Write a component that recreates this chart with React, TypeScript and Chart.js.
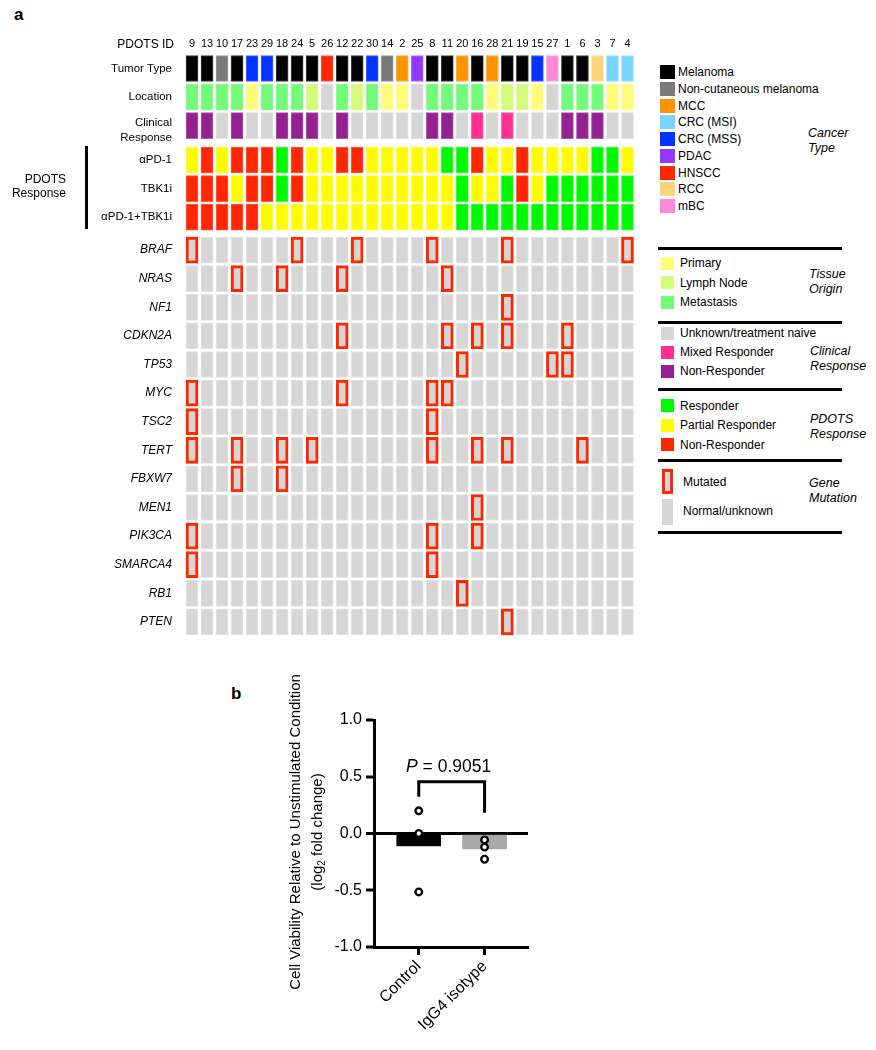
import React, { useEffect, useRef } from 'react';
import { Chart, registerables } from 'chart.js';

Chart.register(...registerables);

const FONT = '"Liberation Sans", Arial, Helvetica, sans-serif';

// ---------------- Panel a data ----------------
const pdotsIds = ['9','13','10','17','23','29','18','24','5','26','12','22','30','14','2','25','8','11','20','16','28','21','19','15','27','1','6','3','7','4'];

const tumorType = ['Melanoma','Melanoma','Non-cutaneous melanoma','Melanoma','CRC (MSS)','CRC (MSS)','Melanoma','Melanoma','Melanoma','HNSCC','Melanoma','Melanoma','CRC (MSS)','Non-cutaneous melanoma','MCC','PDAC','Melanoma','Melanoma','MCC','Melanoma','MCC','Melanoma','Melanoma','CRC (MSS)','mBC','Melanoma','Melanoma','RCC','CRC (MSI)','CRC (MSI)'];

// P = Primary, L = Lymph Node, M = Metastasis, U = unknown
const tissueOrigin = ['M','M','M','M','P','M','M','M','L','U','M','L','M','P','P','U','M','M','M','M','P','L','L','P','U','M','M','M','P','P'];

// U = unknown/treatment naive, X = mixed responder, N = non-responder
const clinicalResponse = ['N','N','U','N','U','U','N','N','N','U','N','U','U','U','U','U','N','N','U','X','U','X','U','U','U','N','N','N','U','U'];

// R = responder, P = partial responder, N = non-responder
const respPD1 = ['P','N','P','N','N','N','R','N','P','P','N','N','P','P','P','P','P','R','R','N','P','P','N','P','P','P','P','R','R','P'];
const respTBK1i = ['N','N','N','P','N','N','R','N','P','P','P','P','P','P','P','P','P','P','R','P','P','R','N','P','R','R','R','R','R','R'];
const respCombo = ['N','N','N','N','N','P','P','P','P','P','P','P','P','P','P','P','P','P','R','R','R','R','R','R','R','R','R','R','R','R'];

const geneNames = ['BRAF','NRAS','NF1','CDKN2A','TP53','MYC','TSC2','TERT','FBXW7','MEN1','PIK3CA','SMARCA4','RB1','PTEN'];
const mutatedIds = [
  ['9','24','22','8','21','4'],
  ['17','18','12','11'],
  ['21'],
  ['12','11','16','21','1'],
  ['20','27','1'],
  ['9','12','8','11'],
  ['9','8'],
  ['9','17','18','5','8','16','21','6'],
  ['17','18'],
  ['16'],
  ['9','8','16'],
  ['9','8'],
  ['20'],
  ['21'],
];

const headerRowLabels: (string | string[])[] = ['Tumor Type','Location',['Clinical','Response'],'αPD-1','TBK1i','αPD-1+TBK1i'];

// legend categories
const cancerTypeNames = ['Melanoma','Non-cutaneous melanoma','MCC','CRC (MSI)','CRC (MSS)','PDAC','HNSCC','RCC','mBC'];
const tissueNames = ['Primary','Lymph Node','Metastasis'];
const clinicalNames = ['Unknown/treatment naive','Mixed Responder','Non-Responder'];
const pdotsRespNames = ['Responder','Partial Responder','Non-Responder'];
const mutationNames = ['Mutated','Normal/unknown'];

// ---------------- Panel b data ----------------
const groups = ['Control','IgG4 isotype'];
const groupMeans = [-0.11, -0.135];
const controlPoints = [0.2, 0.0, -0.515];
const igg4Points = [-0.057, -0.12, -0.227];
const bracketTop = 0.456;
const bracketLegEnds = [0.324, 0.183];
const pValueLabelY = 0.545;
const pValueText = ' = 0.9051';

// ---------------- styles ----------------
const cancerTypeColors = ['#000000','#797979','#FF9300','#76D6FF','#0433FF','#9437FF','#FF2600','#FFD479','#FF8AD8'];
const tissueColors: Record<string, string> = { P: '#FFFC79', L: '#D4FB79', M: '#73FA79', U: '#D6D6D6' };
const clinicalColors: Record<string, string> = { U: '#D6D6D6', X: '#FF2F92', N: '#942192' };
const respColors: Record<string, string> = { R: '#00F900', P: '#FFFB00', N: '#FF2600' };
const GRAY = '#D6D6D6';
const MUT_RED = '#FF2600';
const barColors = ['#000000', '#A8A8A8'];

// vertical layout slots (row units)
const rowSlots = [0, 1, 2, 3.2, 4.2, 5.2, ...geneNames.map((_, i) => 6.35 + i)];
// where each row's label sits (two-line label nudged slightly down)
const labelSlots = rowSlots.map((s, i) => (i === 2 ? s + 0.15 : s));
const HALF = 0.455;

function mixWhite(hex: string, t: number) {
  const n = parseInt(hex.slice(1), 16);
  const f = (c: number) => Math.round(c + (255 - c) * t);
  return `rgb(${f((n >> 16) & 255)},${f((n >> 8) & 255)},${f(n & 255)})`;
}

function floatRow(slot: number) {
  return pdotsIds.map(() => [slot - HALF, slot + HALF]);
}

function rowDataset(slot: number, colors: string[], borders?: string[], widths?: number[]) {
  return {
    data: floatRow(slot),
    backgroundColor: colors,
    borderColor: borders ?? colors.map((c) => mixWhite(c, 0.25)),
    borderWidth: widths ?? colors.map(() => 1),
    borderSkipped: false,
    grouped: false,
    barThickness: 12,
  };
}

function heatmapConfig(): any {
  const rowLabels: (string | string[])[] = [...headerRowLabels, ...geneNames];
  const datasets: any[] = [
    rowDataset(rowSlots[0], tumorType.map((t) => cancerTypeColors[cancerTypeNames.indexOf(t)])),
    rowDataset(rowSlots[1], tissueOrigin.map((t) => tissueColors[t])),
    rowDataset(rowSlots[2], clinicalResponse.map((t) => clinicalColors[t])),
    rowDataset(rowSlots[3], respPD1.map((t) => respColors[t])),
    rowDataset(rowSlots[4], respTBK1i.map((t) => respColors[t])),
    rowDataset(rowSlots[5], respCombo.map((t) => respColors[t])),
    ...geneNames.map((g, gi) => {
      const mut = pdotsIds.map((id) => mutatedIds[gi].includes(id));
      return rowDataset(
        rowSlots[6 + gi],
        pdotsIds.map(() => GRAY),
        mut.map((m) => (m ? MUT_RED : mixWhite(GRAY, 0.35))),
        mut.map((m) => (m ? 3 : 1))
      );
    }),
  ];
  return {
    type: 'bar',
    data: { labels: pdotsIds, datasets },
    options: {
      responsive: false,
      maintainAspectRatio: false,
      animation: false,
      events: [],
      layout: { padding: { left: 0, top: 0, right: 5, bottom: 23.8 } },
      plugins: { legend: { display: false }, tooltip: { enabled: false } },
      scales: {
        x: {
          type: 'category',
          position: 'top',
          grid: { display: false, drawTicks: false, tickLength: 0 },
          border: { display: false },
          ticks: { color: '#000', font: { family: FONT, size: 11 }, padding: 3.6, maxRotation: 0, minRotation: 0, autoSkip: false },
          afterFit: (s: any) => { s.height = 54.2; },
        },
        y: {
          type: 'linear',
          reverse: true,
          min: -0.5,
          max: 19.85,
          bounds: 'data',
          grid: { display: false, drawTicks: false, tickLength: 0 },
          border: { display: false },
          afterBuildTicks: (s: any) => { s.ticks = labelSlots.map((v) => ({ value: v })); },
          afterFit: (s: any) => { s.width = 184.5; },
          ticks: {
            autoSkip: false,
            padding: 12.5,
            color: '#000',
            callback: (v: number) => rowLabels[labelSlots.indexOf(v)],
            font: (ctx: any) => {
              const idx = ctx.tick ? labelSlots.indexOf(ctx.tick.value) : 0;
              return idx >= 6
                ? { family: FONT, size: 12, style: 'italic', lineHeight: 1.25 }
                : { family: FONT, size: 11.5, style: 'normal', lineHeight: 1.3 };
            },
          },
        },
      },
    },
  };
}

const bracketPlugin = {
  id: 'pBracket',
  afterDatasetsDraw(chart: any) {
    const { ctx, scales } = chart;
    const x = scales.x, y = scales.y;
    const x0 = x.getPixelForValue(0), x1 = x.getPixelForValue(1);
    const yTop = y.getPixelForValue(bracketTop);
    ctx.save();
    ctx.strokeStyle = '#000';
    ctx.lineWidth = 3;
    ctx.lineJoin = 'miter';
    ctx.beginPath();
    ctx.moveTo(x0, y.getPixelForValue(bracketLegEnds[0]));
    ctx.lineTo(x0, yTop);
    ctx.lineTo(x1, yTop);
    ctx.lineTo(x1, y.getPixelForValue(bracketLegEnds[1]));
    ctx.stroke();
    const size = 17.5;
    ctx.font = `italic ${size}px ${FONT}`;
    const w1 = ctx.measureText('P').width;
    ctx.font = `${size}px ${FONT}`;
    const w2 = ctx.measureText(pValueText).width;
    const cx = (x0 + x1) / 2 - 3;
    const by = y.getPixelForValue(pValueLabelY);
    const sx = cx - (w1 + w2) / 2;
    ctx.fillStyle = '#000';
    ctx.textAlign = 'left';
    ctx.textBaseline = 'alphabetic';
    ctx.font = `italic ${size}px ${FONT}`;
    ctx.fillText('P', sx, by);
    ctx.font = `${size}px ${FONT}`;
    ctx.fillText(pValueText, sx + w1, by);
    ctx.restore();
  },
};

function barConfig(): any {
  const pointStyle = {
    type: 'scatter',
    pointRadius: 3.3,
    pointBorderWidth: 2.3,
    pointBackgroundColor: '#fff',
    pointBorderColor: '#000',
    order: 0,
  };
  return {
    type: 'bar',
    data: {
      datasets: [
        { ...pointStyle, data: controlPoints.map((v) => ({ x: 0, y: v })) },
        { ...pointStyle, data: igg4Points.map((v) => ({ x: 1, y: v })) },
        {
          type: 'bar',
          data: groupMeans.map((v, i) => ({ x: i, y: v })),
          backgroundColor: barColors,
          borderWidth: 0,
          barThickness: 44,
          order: 1,
        },
      ],
    },
    options: {
      responsive: false,
      maintainAspectRatio: false,
      animation: false,
      events: [],
      layout: { padding: { left: 0, top: 20, right: 12, bottom: 0 } },
      plugins: { legend: { display: false }, tooltip: { enabled: false } },
      scales: {
        x: {
          type: 'linear',
          min: -0.68,
          max: 1.66,
          offset: false,
          grid: { offset: false, drawOnChartArea: false, drawTicks: true, tickLength: 8, tickWidth: 3, tickColor: '#000' },
          border: { display: true, color: '#000', width: 3 },
          afterBuildTicks: (s: any) => { s.ticks = groups.map((_, i) => ({ value: i })); },
          afterFit: (s: any) => { s.height = 103; },
          ticks: {
            autoSkip: false,
            minRotation: 45,
            maxRotation: 45,
            padding: 2,
            color: '#000',
            font: { family: FONT, size: 16 },
            callback: (v: number) => groups[v],
          },
        },
        y: {
          type: 'linear',
          min: -1,
          max: 1,
          border: { display: true, color: '#000', width: 3 },
          grid: {
            drawOnChartArea: true,
            drawTicks: true,
            tickLength: 8,
            tickWidth: 3,
            tickColor: '#000',
            color: (ctx: any) => (ctx.tick && ctx.tick.value === 0 ? '#000' : 'rgba(0,0,0,0)'),
            lineWidth: (ctx: any) => (ctx.tick && ctx.tick.value === 0 ? 3 : 0),
          },
          afterFit: (s: any) => { s.width = 144; },
          ticks: {
            stepSize: 0.5,
            padding: 4,
            color: '#000',
            font: { family: FONT, size: 16 },
            callback: (v: number) => Number(v).toFixed(1),
          },
        },
      },
    },
    plugins: [bracketPlugin],
  };
}

function ChartCanvas({ config, left, top, width, height }: any) {
  const ref = useRef<HTMLCanvasElement>(null);
  useEffect(() => {
    const chart = new Chart(ref.current as HTMLCanvasElement, config());
    return () => chart.destroy();
  }, []);
  return (
    <canvas
      ref={ref}
      width={width}
      height={height}
      style={{ position: 'absolute', left, top, width, height, display: 'block' }}
    />
  );
}

function Txt({ x, y, lines, size = 12, align = 'left', italic = false, bold = false, lh }: any) {
  const arr: any[] = Array.isArray(lines) ? lines : [lines];
  const lineH = lh ?? Math.round(size * 1.2);
  const style: React.CSSProperties = {
    position: 'absolute',
    top: y - (arr.length * lineH) / 2,
    fontFamily: FONT,
    fontSize: size,
    lineHeight: `${lineH}px`,
    whiteSpace: 'nowrap',
    fontStyle: italic ? 'italic' : 'normal',
    fontWeight: bold ? 'bold' : 'normal',
    color: '#000',
  };
  if (align === 'left') style.left = x;
  else {
    style.right = 876 - x;
    style.textAlign = 'right';
  }
  return (
    <div style={style}>
      {arr.map((l, i) => (
        <div key={i}>{l}</div>
      ))}
    </div>
  );
}

function Box({ x, y, w, h, color, border, bw }: any) {
  return (
    <div
      style={{
        position: 'absolute',
        left: x,
        top: y,
        width: w,
        height: h,
        background: color,
        boxSizing: 'border-box',
        border: border ? `${bw}px solid ${border}` : undefined,
      }}
    />
  );
}

function Legend() {
  const sepYs = [248, 322, 389, 460, 532];
  const tissueSw = ['P', 'L', 'M'].map((k) => tissueColors[k]);
  const clinSw = ['U', 'X', 'N'].map((k) => clinicalColors[k]);
  const respSw = ['R', 'P', 'N'].map((k) => respColors[k]);
  const tissueYs = [263, 282.5, 302];
  const clinYs = [333, 352, 371];
  const respYs = [405.5, 425, 444.5];
  return (
    <>
      {cancerTypeNames.map((n, i) => {
        const cy = 72 + 16.75 * i;
        return (
          <React.Fragment key={n}>
            <Box x={660} y={cy - 7} w={15} h={14} color={cancerTypeColors[i]} />
            <Txt x={678} y={cy} lines={n} size={12} />
          </React.Fragment>
        );
      })}
      <Txt x={808} y={140.5} lines={['Cancer', 'Type']} size={12.5} italic lh={15} />
      {sepYs.map((y) => (
        <Box key={y} x={658} y={y - 1.5} w={184} h={3} color="#000" />
      ))}
      {tissueNames.map((n, i) => (
        <React.Fragment key={n}>
          <Box x={661} y={tissueYs[i] - 6.5} w={13} h={13} color={tissueSw[i]} />
          <Txt x={680} y={tissueYs[i]} lines={n} size={12} />
        </React.Fragment>
      ))}
      <Txt x={809} y={282} lines={['Tissue', 'Origin']} size={12.5} italic lh={15} />
      {clinicalNames.map((n, i) => (
        <React.Fragment key={n}>
          <Box x={661} y={clinYs[i] - 6.5} w={13} h={13} color={clinSw[i]} />
          <Txt x={680} y={clinYs[i]} lines={n} size={12} />
        </React.Fragment>
      ))}
      <Txt x={810} y={359} lines={['Clinical', 'Response']} size={12.5} italic lh={15} />
      {pdotsRespNames.map((n, i) => (
        <React.Fragment key={n}>
          <Box x={661} y={respYs[i] - 6.5} w={13} h={13} color={respSw[i]} />
          <Txt x={680} y={respYs[i]} lines={n} size={12} />
        </React.Fragment>
      ))}
      <Txt x={810} y={427} lines={['PDOTS', 'Response']} size={12.5} italic lh={15} />
      <Box x={662} y={469} w={11} h={25} color={GRAY} border={MUT_RED} bw={3} />
      <Txt x={683} y={482} lines={mutationNames[0]} size={12} />
      <Box x={662} y={499} w={11} h={26} color={GRAY} />
      <Txt x={683} y={511} lines={mutationNames[1]} size={12} />
      <Txt x={809} y={490.5} lines={['Gene', 'Mutation']} size={12.5} italic lh={15} />
    </>
  );
}

export default function App() {
  return (
    <div style={{ position: 'absolute', left: 0, top: 0, width: 876, height: 1050, background: '#fff', overflow: 'hidden' }}>
      <Txt x={14} y={14} lines="a" size={17} bold lh={17} />
      <ChartCanvas config={heatmapConfig} left={0} top={0} width={640} height={660} />
      <Txt x={174} y={44} lines="PDOTS ID" size={12} align="right" />
      <Txt x={66} y={186} lines={['PDOTS', 'Response']} size={12} align="right" lh={14} />
      <Box x={85} y={146} w={3} h={83} color="#000" />
      <Legend />

      <Txt x={231} y={693} lines="b" size={17} bold lh={17} />
      <ChartCanvas config={barConfig} left={230} top={700} width={310} height={350} />
      <div
        style={{
          position: 'absolute',
          left: 306 - 170,
          top: 832 - 22,
          width: 340,
          height: 44,
          transform: 'rotate(-90deg)',
          transformOrigin: '50% 50%',
          textAlign: 'center',
          fontFamily: FONT,
          fontSize: 15,
          lineHeight: '22px',
          color: '#000',
          whiteSpace: 'nowrap',
        }}
      >
        <div>Cell Viability Relative to Unstimulated Condition</div>
        <div>
          (log<sub style={{ fontSize: 10, lineHeight: 0, verticalAlign: '-3px' }}>2</sub> fold change)
        </div>
      </div>
    </div>
  );
}
